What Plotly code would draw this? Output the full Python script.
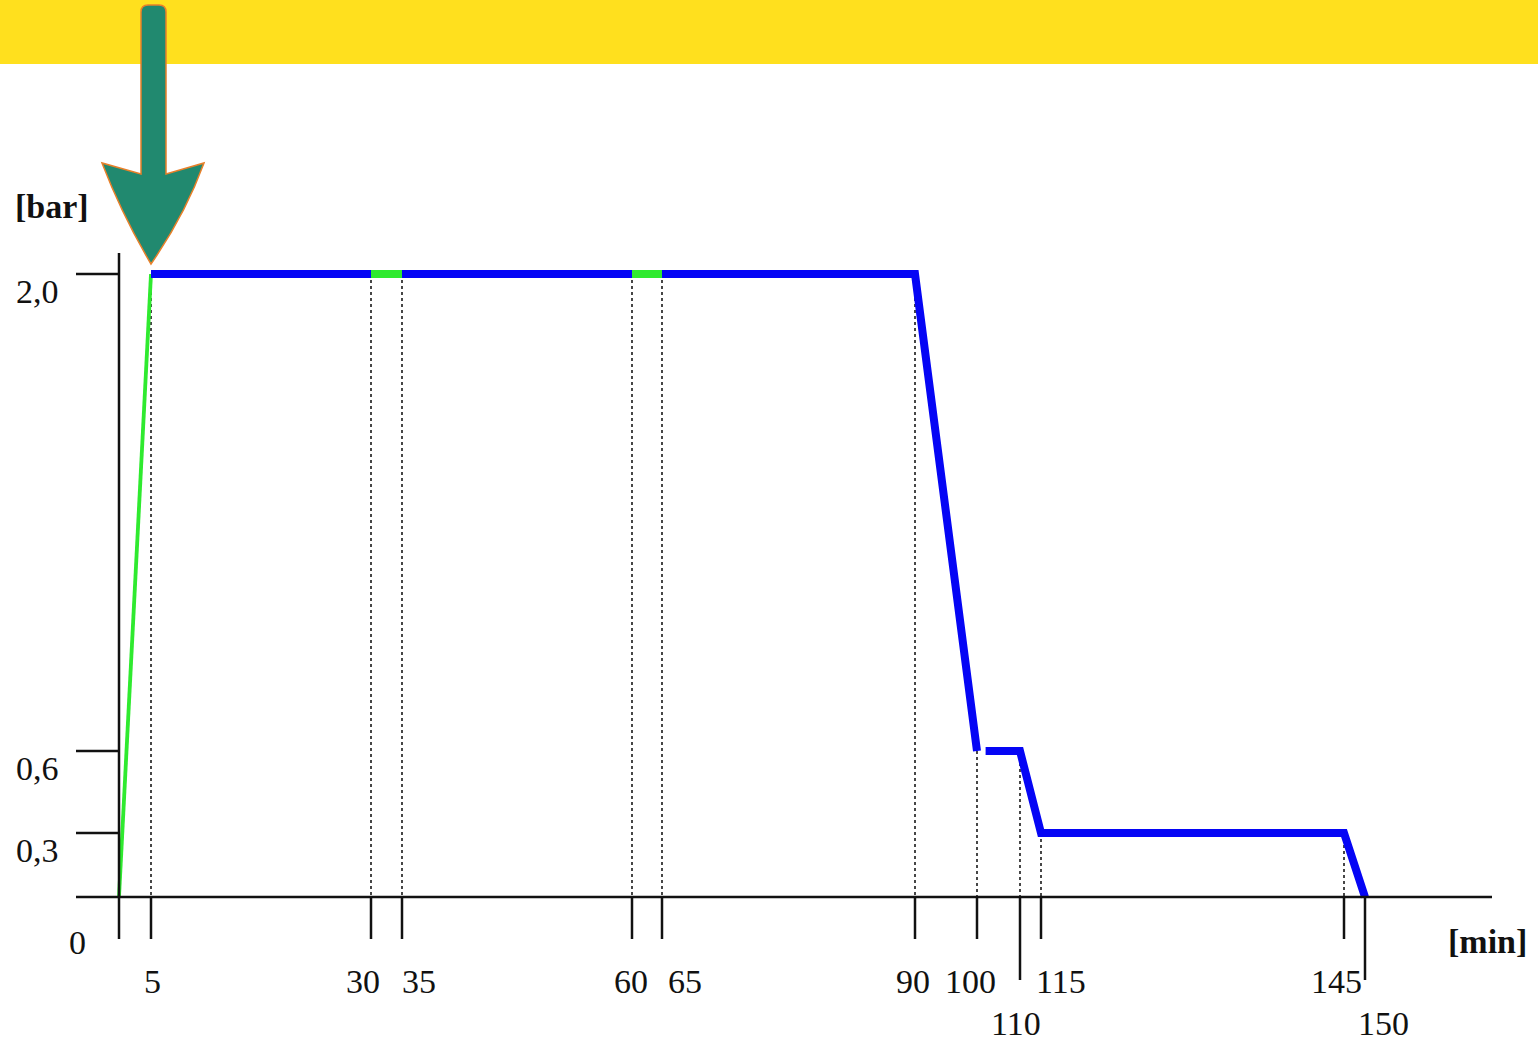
import numpy as np
import plotly.graph_objects as go

# ---------------- data ----------------
time_min = [0, 5, 30, 35, 60, 65, 90, 100, 110, 115, 145, 150]
pressure_bar = [0.0, 2.0, 2.0, 2.0, 2.0, 2.0, 2.0, 0.6, 0.6, 0.3, 0.3, 0.0]
x_tick_labels = ["0", "5", "30", "35", "60", "65", "90", "100", "110", "115", "145", "150"]
y_tick_values = [0.3, 0.6, 2.0]
y_tick_labels = ["0,3", "0,6", "2,0"]
# segments: (start_min, end_min, colour key)
segments = [(0, 5, "ramp"), (5, 30, "hold"), (30, 35, "pause"), (35, 60, "hold"),
            (60, 65, "pause"), (65, 100, "hold"), (102, 150, "hold")]
guide_times = [5, 30, 35, 60, 65, 90, 100, 110, 115, 145]

# ---------------- schematic (non-linear) scales, in page pixels ----------------
X_SCALE_MIN = time_min
X_SCALE_POS = [119, 151, 371, 402, 632, 662, 915, 977, 1020, 1041, 1344, 1365]
Y_SCALE_VAL = [0.0, 0.3, 0.6, 2.0]
Y_SCALE_POS = [897, 833, 751, 274]


def sx(t):
    return np.interp(t, X_SCALE_MIN, X_SCALE_POS)


def sy(p):
    return np.interp(p, Y_SCALE_VAL, Y_SCALE_POS)


def pressure_at(t):
    return np.interp(t, time_min, pressure_bar)


BLUE = "#0505F5"
GREEN = "#2FEA2F"
FONT = "Liberation Serif"
INK = "#111111"

fig = go.Figure()

# dotted guides
for t in guide_times:
    fig.add_trace(go.Scatter(x=[sx(t), sx(t)], y=[sy(pressure_at(t)), sy(0)], mode="lines",
                             line=dict(color="#333333", width=1.8, dash="dot"),
                             hoverinfo="skip", showlegend=False))

# axes drawn as shapes
AX_LEFT, AX_RIGHT, AX_TOP = 76, 1492, 253
fig.add_shape(type="line", x0=AX_LEFT, x1=AX_RIGHT, y0=sy(0), y1=sy(0), line=dict(color=INK, width=2.5))
fig.add_shape(type="line", x0=sx(0), x1=sx(0), y0=AX_TOP, y1=sy(0), line=dict(color=INK, width=2.5))
for v in y_tick_values:
    fig.add_shape(type="line", x0=AX_LEFT, x1=sx(0), y0=sy(v), y1=sy(v), line=dict(color=INK, width=2.5))
long_ticks = {"110", "150"}
for t, lab in zip(time_min, x_tick_labels):
    ln = 83 if lab in long_ticks else 42
    fig.add_shape(type="line", x0=sx(t), x1=sx(t), y0=sy(0), y1=sy(0) + ln, line=dict(color=INK, width=2.5))

# pressure curve
for (a, b, kind) in segments:
    ts = [t for t in time_min if a < t < b]
    xs = [a] + ts + [b]
    col = BLUE if kind == "hold" else GREEN
    w = 3.8 if kind == "ramp" else 8
    fig.add_trace(go.Scatter(x=sx(xs), y=sy(pressure_at(np.array(xs))), mode="lines",
                             line=dict(color=col, width=w), hoverinfo="skip", showlegend=False))

# tick labels
label_dx = {"0": -42, "5": 1, "30": -8, "35": 17, "60": -1, "65": 23, "90": -2, "100": -7,
            "110": -4, "115": 20, "145": -8, "150": 18}
label_y = {"0": 942, "110": 1023, "150": 1023}
for t, lab in zip(time_min, x_tick_labels):
    fig.add_annotation(x=sx(t) + label_dx[lab], y=label_y.get(lab, 981), text=lab, showarrow=False,
                       font=dict(family=FONT, size=34, color=INK), xanchor="center", yanchor="middle")
for v, lab in zip(y_tick_values, y_tick_labels):
    fig.add_annotation(x=37, y=sy(v) + 17, text=lab, showarrow=False,
                       font=dict(family=FONT, size=34, color=INK), xanchor="center", yanchor="middle")
fig.add_annotation(x=52, y=206, text="<b>[bar]</b>", showarrow=False,
                   font=dict(family=FONT, size=34, color=INK), xanchor="center", yanchor="middle")
fig.add_annotation(x=1487, y=941, text="<b>[min]</b>", showarrow=False,
                   font=dict(family=FONT, size=34, color=INK), xanchor="center", yanchor="middle")

# yellow header band
fig.add_shape(type="rect", xref="paper", yref="y", x0=0, x1=1, y0=0, y1=64,
              fillcolor="#FFE01E", line=dict(width=0), layer="below")

# arrow pointing at the start of the plateau
tip_x, tip_y = sx(5), sy(2.0) - 10
arrow_path = (f"M 141,12 Q 141,5 148,5 L 159,5 Q 166,5 166,12 L 166,174 L 204,163 "
              f"Q 185,215 {tip_x:.1f},{tip_y:.1f} Q 122,215 102,163 L 141,174 Z")
fig.add_shape(type="path", path=arrow_path, fillcolor="#21896F",
              line=dict(color="#E8802A", width=1.5), layer="above")

fig.update_layout(
    width=1538, height=1042,
    margin=dict(l=0, r=0, t=0, b=0),
    paper_bgcolor="white", plot_bgcolor="white",
    xaxis=dict(range=[0, 1538], visible=False, fixedrange=True),
    yaxis=dict(range=[1042, 0], visible=False, fixedrange=True),
    showlegend=False,
)

fig.write_html("out.html", config={"displayModeBar": False},
               post_script="document.body.style.margin='0';document.body.style.overflow='hidden';")
